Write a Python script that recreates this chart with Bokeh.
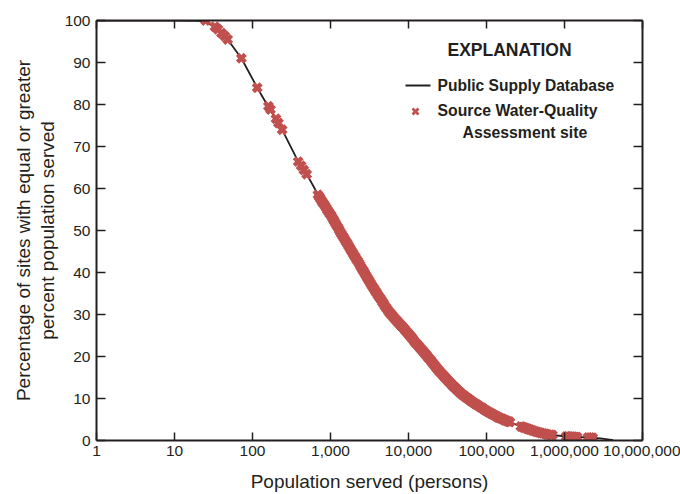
from bokeh.plotting import figure
from bokeh.models import (Range1d, FixedTicker, LogAxis, LinearAxis, Label, Arrow,
                          CustomJSTickFormatter)
from bokeh.embed import file_html
from bokeh.resources import INLINE

# Cumulative curve: population served vs percentage of sites with equal or greater population
curve_pop = [1, 10, 19, 25, 35, 47, 72, 115, 165, 235, 389, 510, 700, 1100, 1560,
             2220, 3240, 5380, 7230, 9710, 13000, 17500, 25700, 36600, 50700, 72300,
             103000, 142600, 203000, 297000, 425000, 603000, 1090000, 2150000,
             2900000, 4200000]
curve_pct = [100, 100, 99.9, 99.8, 98.0, 95.7, 91.0, 84.0, 79.0, 74.3, 66.3, 63.0, 58.4,
             52.5, 47.5, 42.8, 37.5, 31.1, 28.3, 25.7, 22.8, 20.0, 16.2, 13.1, 10.7, 8.7,
             6.9, 5.5, 4.3, 3.1, 2.1, 1.4, 0.95, 0.7, 0.5, 0.1]

# Source Water-Quality Assessment sites
site_pop = [25, 33, 36, 40, 44, 48, 72, 115, 160, 170, 200, 215, 240,
            385, 420, 455, 495,
            690, 720, 740, 770, 790, 820, 850, 880, 910, 950, 980, 1020, 1050, 1090,
            1120, 1160, 1200, 1250, 1290, 1330, 1380, 1430, 1480, 1530, 1590, 1640,
            1700, 1760, 1820, 1880, 1950, 2020, 2090, 2160, 2240, 2320, 2400, 2480,
            2570, 2660, 2750, 2850, 2950, 3050, 3160, 3270, 3390, 3510, 3630, 3760,
            3890, 4030, 4170, 4320, 4470, 4630, 4790, 4960, 5130, 5310, 5500, 5690,
            5890, 6100, 6310, 6530, 6760, 7000, 7240, 7500, 7760, 8030, 8320, 8610,
            8910, 9230, 9550, 9880, 10200, 10600, 11000, 11300, 11700, 12100, 12600,
            13000, 13500, 14000, 14500, 15000, 15500, 16000, 16600, 17200, 17800,
            18400, 19100, 19700, 20400, 21100, 21900, 22600, 23400, 24300, 25100,
            26000, 26900, 27900, 28800, 29900, 30900, 32000, 33100, 34300, 35500,
            36700, 38000, 39400, 40700, 42200, 43700, 45200, 46800, 48400, 50100,
            51900, 53700, 55600, 57500, 59600, 61700, 63800, 66100, 68400, 70800,
            73300, 75900, 78500, 81300, 84200, 87100, 90200, 93300, 96600, 100000,
            103500, 107000, 111000, 115000, 119000, 123000, 127000, 132000, 136000,
            141000, 146000, 151000, 157000, 162000, 168000, 174000, 180000, 186000,
            193000, 200000,
            275000, 290000, 300000, 315000, 330000, 345000, 360000, 380000, 400000,
            425000, 450000, 475000, 500000, 530000, 560000, 590000, 620000, 660000,
            700000,
            1050000, 1100000, 1150000, 1220000, 1300000, 1370000, 1450000,
            2000000, 2150000, 2300000]
site_pct = [100, 98.5, 97.9, 97.0, 96.3, 95.5, 91.0, 84.0, 79.6, 78.8, 76.6, 75.6, 74.0,
            66.4, 65.4, 64.4, 63.4,
            58.5, 58.0, 57.6, 57.1, 56.7, 56.3, 55.9, 55.4, 54.9, 54.4, 54.0, 53.6,
            53.1, 52.6, 52.2, 51.7, 51.2, 50.7, 50.2, 49.7, 49.2, 48.7, 48.3, 47.8,
            47.3, 46.9, 46.4, 45.9, 45.4, 45.0, 44.5, 44.0, 43.6, 43.1, 42.7, 42.2,
            41.7, 41.2, 40.7, 40.3, 39.8, 39.3, 38.8, 38.4, 37.9, 37.4, 36.9, 36.5,
            36.1, 35.6, 35.2, 34.7, 34.3, 33.9, 33.5, 33.0, 32.6, 32.1, 31.7, 31.3,
            30.9, 30.5, 30.2, 29.9, 29.6, 29.2, 28.9, 28.6, 28.3, 28.0, 27.7, 27.4,
            27.1, 26.8, 26.5, 26.1, 25.8, 25.5, 25.2, 24.8, 24.5, 24.2, 23.8, 23.4,
            23.1, 22.8, 22.5, 22.1, 21.8, 21.5, 21.2, 20.9, 20.5, 20.2, 19.8, 19.5,
            19.2, 18.8, 18.5, 18.1, 17.8, 17.4, 17.1, 16.7, 16.4, 16.1, 15.8, 15.5,
            15.2, 14.9, 14.6, 14.3, 14.0, 13.7, 13.4, 13.1, 12.8, 12.6, 12.3, 12.0,
            11.8, 11.5, 11.3, 11.0, 10.8, 10.6, 10.4, 10.2, 10.0, 9.8, 9.6, 9.4, 9.2,
            9.0, 8.8, 8.6, 8.5, 8.3, 8.1, 7.9, 7.8, 7.6, 7.4, 7.2, 7.1, 6.9, 6.7, 6.6,
            6.4, 6.3, 6.1, 6.0, 5.8, 5.7, 5.5, 5.4, 5.3, 5.2, 5.1, 4.9, 4.8, 4.7, 4.6,
            4.5, 4.4,
            3.35, 3.2, 3.1, 3.0, 2.85, 2.7, 2.6, 2.45, 2.3, 2.15, 2.0, 1.9, 1.8, 1.7,
            1.6, 1.5, 1.4, 1.35, 1.3,
            0.95, 0.94, 0.92, 0.9, 0.88, 0.86, 0.83,
            0.72, 0.69, 0.66]

x_ticks = [1, 10, 100, 1000, 10000, 100000, 1000000, 10000000]
x_tick_labels = ["1", "10", "100", "1,000", "10,000", "100,000", "1,000,000", "10,000,000"]
y_ticks = [0, 10, 20, 30, 40, 50, 60, 70, 80, 90, 100]

INK = "#231f20"
RED = "#c0504d"
SANS = "'Liberation Sans', Arial, sans-serif"

p = figure(width=680, height=494, x_axis_type="log",
           x_range=Range1d(1, 1e7), y_range=Range1d(0, 100),
           output_backend="svg", toolbar_location=None,
           min_border_left=96, min_border_right=38,
           min_border_top=20, min_border_bottom=53)
p.background_fill_color = "white"
p.border_fill_color = "white"
p.outline_line_color = None
p.xgrid.grid_line_color = None
p.ygrid.grid_line_color = None

# Tick-only frame edges on the top and right
blank = CustomJSTickFormatter(code="return ''")
top_axis = LogAxis(formatter=blank)
right_axis = LinearAxis(formatter=blank)
p.add_layout(top_axis, "above")
p.add_layout(right_axis, "right")

for ax in p.xaxis:
    ax.ticker = FixedTicker(ticks=x_ticks, minor_ticks=[])
    ax.major_tick_in = 8
for ax in p.yaxis:
    ax.ticker = FixedTicker(ticks=y_ticks, minor_ticks=[])
    ax.major_tick_in = 9
p.below[0].major_label_overrides = {t: s for t, s in zip(x_ticks, x_tick_labels)}

for ax in p.xaxis + p.yaxis:
    ax.major_tick_out = 0
    ax.minor_tick_in = 0
    ax.minor_tick_out = 0
    ax.axis_line_color = INK
    ax.axis_line_width = 2
    ax.major_tick_line_color = INK
    ax.major_tick_line_width = 1.5
    ax.major_label_text_font = SANS
    ax.major_label_text_font_size = "15.5px"
    ax.major_label_text_color = INK
    ax.axis_label_text_font = SANS
    ax.axis_label_text_font_size = "19px"
    ax.axis_label_text_font_style = "normal"
    ax.axis_label_text_color = INK

for ax in (top_axis, right_axis):
    ax.major_label_standoff = 0

p.below[0].axis_label = "Population served (persons)"
p.below[0].major_label_standoff = 5
p.below[0].axis_label_standoff = 12
p.left[0].axis_label = "Percentage of sites with equal or greater\npercent population served"
p.left[0].major_label_standoff = 6
p.left[0].axis_label_standoff = 4
p.left[0].axis_label_text_line_height = 1.12

p.line(curve_pop, curve_pct, line_color=INK, line_width=1.8)
p.scatter(site_pop, site_pct, marker="x", size=11, line_width=4.5,
          line_color=RED)

# Explanation block (screen offsets from the lower-left corner of the frame)
def add_text(text, x, y, size):
    p.add_layout(Label(x=x, y=y, x_units="screen", y_units="screen", text=text,
                       text_font=SANS, text_font_style="bold",
                       text_font_size=size, text_color=INK,
                       text_baseline="middle", text_align="left"))

add_text("EXPLANATION", 351, 391, "17.5px")
add_text("Public Supply Database", 341, 355, "15.6px")
add_text("Source Water-Quality", 341, 330, "15.8px")
add_text("Assessment site", 366, 308, "15.8px")

p.add_layout(Arrow(end=None, x_start=309, y_start=355, x_end=334, y_end=355,
                   start_units="screen", end_units="screen",
                   line_color=INK, line_width=2))
for dx0, dy0, dx1, dy1 in [(-3, -3, 3, 3), (-3, 3, 3, -3)]:
    p.add_layout(Arrow(end=None, x_start=319 + dx0, y_start=329 + dy0,
                       x_end=319 + dx1, y_end=329 + dy1,
                       start_units="screen", end_units="screen",
                       line_color=RED, line_width=2.6))

open("out.html", "w").write(file_html(p, INLINE))
